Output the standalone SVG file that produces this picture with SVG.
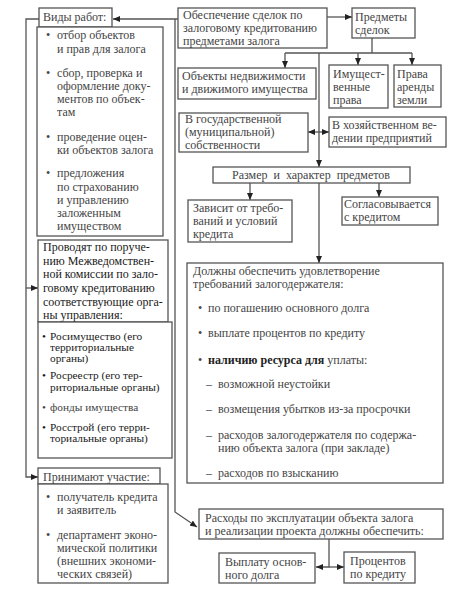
<svg xmlns="http://www.w3.org/2000/svg" width="474" height="602" viewBox="0 0 474 602" font-family="'Liberation Serif', 'DejaVu Serif', serif">
<style>
rect{fill:#fff;stroke:#555;stroke-width:1.3}
text{font-family:'Liberation Serif','DejaVu Serif',serif;font-size:12px;fill:#444}
.d{fill:#1a1a1a}
.s{font-size:11.3px}
.b{font-weight:bold;fill:#222}
.c{fill:none;stroke:#555;stroke-width:1.3}
.m{text-anchor:middle}
</style>
<defs>
<marker id="a" markerWidth="7" markerHeight="6" refX="7" refY="3" orient="auto" markerUnits="userSpaceOnUse"><path d="M0,0 L7,3 L0,6 z" fill="#222"/></marker>
</defs>
<rect x="0" y="0" width="474" height="602" style="fill:#fff;stroke:none"/>
<g id="connectors">
<path class="c" d="M178,19 H113" marker-end="url(#a)"/>
<path class="c" d="M175,19 V512 L197,527" marker-end="url(#a)"/>
<path class="c" d="M39,19 H26 V477 H38" marker-end="url(#a)"/>
<path class="c" d="M26,288 H38" marker-end="url(#a)"/>
<path class="c" d="M327,17 H352" marker-end="url(#a)"/>
<path class="c" d="M372,38 V53 M285,53 H412"/>
<path class="c" d="M285,53 V68" marker-end="url(#a)"/>
<path class="c" d="M358,53 V65" marker-end="url(#a)"/>
<path class="c" d="M412,53 V65" marker-end="url(#a)"/>
<path class="c" d="M319,53 V167" marker-end="url(#a)"/>
<path class="c" d="M319,132 H308" marker-end="url(#a)"/>
<path class="c" d="M319,132 H329" marker-end="url(#a)"/>
<path class="c" d="M250,183 V200" marker-end="url(#a)"/>
<path class="c" d="M379,183 V197" marker-end="url(#a)"/>
<path class="c" d="M319,183 V263" marker-end="url(#a)"/>
<path class="c" d="M329,539 V567 H316" marker-end="url(#a)"/>
<path class="c" d="M329,567 H344" marker-end="url(#a)"/>
</g>
<g id="vidy">
<rect x="39" y="8" width="73" height="19"/>
<text x="43" y="21">Виды работ:</text>
</g>
<g id="vidy-list">
<rect x="37" y="27" width="126" height="209"/>
<text x="46" y="39">•</text><text x="57" y="39">отбор объектов</text>
<text x="57" y="53">и прав для залога</text>
<text x="46" y="77">•</text><text x="57" y="77">сбор, проверка и</text>
<text x="57" y="90">оформление доку-</text>
<text x="57" y="103">ментов по объек-</text>
<text x="57" y="116">там</text>
<text x="46" y="141">•</text><text x="57" y="141">проведение оцен-</text>
<text x="57" y="154">ки объектов залога</text>
<text x="46" y="177">•</text><text x="57" y="177">предложения</text>
<text x="57" y="191">по страхованию</text>
<text x="57" y="204">и управлению</text>
<text x="57" y="217">заложенным</text>
<text x="57" y="230">имуществом</text>
</g>
<g id="provodyat">
<rect x="38" y="240" width="130" height="82"/>
<text class="d" x="43" y="251">Проводят по поруче-</text>
<text class="d" x="43" y="265">нию Межведомствен-</text>
<text class="d" x="43" y="278">ной комиссии по зало-</text>
<text class="d" x="43" y="292">говому кредитованию</text>
<text class="d" x="43" y="306">соответствующие орга-</text>
<text class="d" x="43" y="319">ны управления:</text>
</g>
<g id="organy">
<rect x="38" y="322" width="134" height="136"/>
<text class="d s" x="42" y="340">•</text><text class="d s" x="50" y="340">Росимущество (его</text>
<text class="d s" x="50" y="351">территориальные</text>
<text class="d s" x="50" y="362">органы)</text>
<text class="d s" x="42" y="379">•</text><text class="d s" x="50" y="379">Росреестр (его тер-</text>
<text class="d s" x="50" y="391">риториальные органы)</text>
<text class="s" x="42" y="411">•</text><text class="s" x="50" y="411">фонды имущества</text>
<text class="d s" x="42" y="431">•</text><text class="d s" x="50" y="431">Росстрой (его терри-</text>
<text class="d s" x="50" y="442">ториальные органы)</text>
</g>
<g id="prinimayut">
<rect x="38" y="468" width="122" height="16"/>
<text x="43" y="481">Принимают участие:</text>
</g>
<g id="prinimayut-list">
<rect x="38" y="484" width="130" height="99"/>
<text x="46" y="501">•</text><text x="57" y="501">получатель кредита</text>
<text x="57" y="514">и заявитель</text>
<text x="46" y="539">•</text><text x="57" y="539">департамент эконо-</text>
<text x="57" y="552">мической политики</text>
<text x="57" y="565">(внешних экономи-</text>
<text x="57" y="578">ческих связей)</text>
</g>
<g id="obespechenie">
<rect x="178" y="8" width="149" height="40"/>
<text x="183" y="19">Обеспечение сделок по</text>
<text x="183" y="32">залоговому кредитованию</text>
<text x="183" y="45">предметами залога</text>
</g>
<g id="predmety">
<rect x="352" y="8" width="63" height="30"/>
<text x="355" y="21">Предметы</text>
<text x="355" y="34">сделок</text>
</g>
<g id="obekty">
<rect x="178" y="68" width="138" height="31"/>
<text x="182" y="80">Объекты недвижимости</text>
<text x="182" y="93">и движимого имущества</text>
</g>
<g id="imush">
<rect x="329" y="65" width="59" height="43"/>
<text x="333" y="78">Имущест-</text>
<text x="333" y="91">венные</text>
<text x="333" y="104">права</text>
</g>
<g id="arenda">
<rect x="394" y="65" width="47" height="42"/>
<text x="397" y="78">Права</text>
<text x="397" y="91">аренды</text>
<text x="397" y="104">земли</text>
</g>
<g id="gos">
<rect x="179" y="113" width="129" height="39"/>
<text x="185" y="123">В государственной</text>
<text x="185" y="136">(муниципальной)</text>
<text x="185" y="149">собственности</text>
</g>
<g id="hoz">
<rect x="329" y="117" width="117" height="30"/>
<text x="332" y="129">В хозяйственном ве-</text>
<text x="332" y="142">дении предприятий</text>
</g>
<g id="razmer">
<rect x="213" y="167" width="197" height="16"/>
<text class="m" x="311" y="179" word-spacing="3">Размер и характер предметов</text>
</g>
<g id="zavisit">
<rect x="188" y="200" width="104" height="42"/>
<text x="193" y="212">Зависит от требо-</text>
<text x="193" y="225">ваний и условий</text>
<text x="193" y="238">кредита</text>
</g>
<g id="soglas">
<rect x="342" y="197" width="96" height="28"/>
<text x="344" y="208">Согласовывается</text>
<text x="344" y="221">с кредитом</text>
</g>
<g id="dolzhny">
<rect x="187" y="263" width="256" height="220"/>
<text x="193" y="275">Должны обеспечить удовлетворение</text>
<text x="193" y="288">требований залогодержателя:</text>
<text x="198" y="312">•</text><text x="208" y="312">по погашению основного долга</text>
<text x="198" y="337">•</text><text x="208" y="337">выплате процентов по кредиту</text>
<text x="198" y="364">•</text><text x="208" y="364"><tspan class="b">наличию ресурса для</tspan> уплаты:</text>
<text x="206" y="388">–</text><text x="218" y="388">возможной неустойки</text>
<text x="206" y="413">–</text><text x="218" y="413">возмещения убытков из-за просрочки</text>
<text x="206" y="439">–</text><text x="218" y="439">расходов залогодержателя по содержа-</text>
<text x="218" y="452">нию объекта залога (при закладе)</text>
<text x="206" y="477">–</text><text x="218" y="477">расходов по взысканию</text>
</g>
<g id="rashody">
<rect x="199" y="509" width="244" height="30"/>
<text x="205" y="522">Расходы по эксплуатации объекта залога</text>
<text x="205" y="535">и реализации проекта должны обеспечить:</text>
</g>
<g id="vyplatu">
<rect x="219" y="553" width="96" height="30"/>
<text x="225" y="566">Выплату основ-</text>
<text x="225" y="579">ного долга</text>
</g>
<g id="procentov">
<rect x="344" y="552" width="71" height="31"/>
<text x="350" y="565">Процентов</text>
<text x="350" y="578">по кредиту</text>
</g>
</svg>
